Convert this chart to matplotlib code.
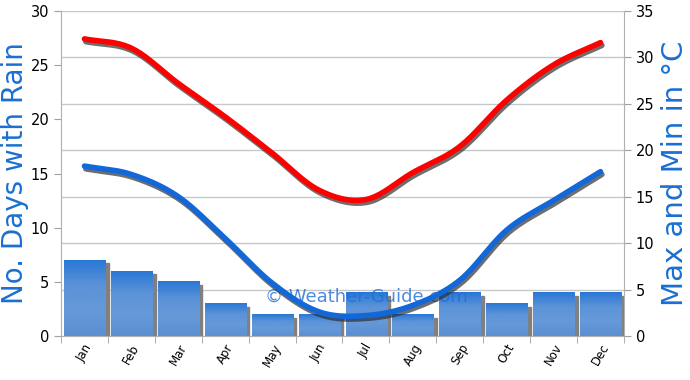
import numpy as np
import matplotlib
matplotlib.use('Agg')
import matplotlib.pyplot as plt
import matplotlib.patheffects as pe
from matplotlib.colors import LinearSegmentedColormap
from matplotlib.patches import Rectangle

months = ['Jan', 'Feb', 'Mar', 'Apr', 'May', 'Jun', 'Jul', 'Aug', 'Sep', 'Oct', 'Nov', 'Dec']
rain_days = [7, 6, 5, 3, 2, 2, 4, 2, 4, 3, 4, 4]
max_temp = [32.0, 31.0, 27.2, 23.6, 19.7, 15.7, 14.7, 17.6, 20.4, 25.4, 29.2, 31.6]
min_temp = [18.3, 17.4, 15.0, 10.5, 5.7, 2.6, 2.2, 3.3, 6.0, 11.4, 14.6, 17.7]

blue_txt = '#1a6fd2'


def smooth(x, y, n=20):
    # catmull-rom curve through the points (like a smoothed excel line)
    x = np.asarray(x, float)
    y = np.asarray(y, float)
    px = np.concatenate([[2 * x[0] - x[1]], x, [2 * x[-1] - x[-2]]])
    py = np.concatenate([[2 * y[0] - y[1]], y, [2 * y[-1] - y[-2]]])
    xs, ys = [], []
    t = np.linspace(0, 1, n, endpoint=False)
    for i in range(1, len(px) - 2):
        for p, out in ((px, xs), (py, ys)):
            p0, p1, p2, p3 = p[i - 1], p[i], p[i + 1], p[i + 2]
            out.extend(0.5 * (2 * p1 + (-p0 + p2) * t
                              + (2 * p0 - 5 * p1 + 4 * p2 - p3) * t ** 2
                              + (-p0 + 3 * p1 - 3 * p2 + p3) * t ** 3))
    xs.append(x[-1])
    ys.append(y[-1])
    return np.array(xs), np.array(ys)


fig = plt.figure(figsize=(6.9, 3.8), dpi=100)
ax = fig.add_axes([0.0884, 0.1158, 0.8159, 0.8552])
x = np.arange(len(months))

# gridlines follow the temperature scale
for t in range(0, 36, 5):
    ax.axhline(t * 30 / 35, color='#c8c8c8', lw=1, zorder=0)

cmap = LinearSegmentedColormap.from_list('rain', ['#2a78d6', '#5c93d8', '#6699d8', '#5b8fd2'])
grad = np.linspace(0, 1, 64).reshape(-1, 1)
bw = 0.88
for xi, d in zip(x, rain_days):
    x0 = xi - bw / 2 + 0.005
    ax.add_patch(Rectangle((x0 + bw, 0), 0.07, d - 0.3, color='#808080', zorder=1))
    ax.imshow(grad, extent=[x0, x0 + bw, 0, d], aspect='auto', cmap=cmap, zorder=2)

ax.set_xlim(-0.5, 11.5)
ax.set_ylim(0, 30)
ax.set_yticks(range(0, 31, 5))
ax.set_xticks(x)
ax.set_xticklabels(months, rotation=60, fontsize=8.5)
ax.set_xticks(np.arange(-0.5, 12, 1), minor=True)
ax.tick_params(axis='x', which='major', length=0, pad=4)
ax.tick_params(axis='x', which='minor', length=5, color='#a0a0a0')
ax.tick_params(axis='y', length=5, color='#a0a0a0', labelsize=10.5)
for s in ['top', 'right']:
    ax.spines[s].set_visible(False)
for s in ['left', 'bottom']:
    ax.spines[s].set_color('#b0b0b0')
ax.set_ylabel('No. Days with Rain', color=blue_txt, fontsize=20, labelpad=1)

ax2 = ax.twinx()
ax2.set_ylim(0, 35)
ax2.set_yticks(range(0, 36, 5))
ax2.tick_params(axis='y', length=5, color='#a0a0a0', labelsize=10.5)
for s in ['top', 'left', 'bottom']:
    ax2.spines[s].set_visible(False)
ax2.spines['right'].set_color('#b0b0b0')
ax2.set_ylabel('Max and Min in °C', color=blue_txt, fontsize=21, labelpad=5)

shadow = [pe.SimpleLineShadow(offset=(1.0, -2.0), shadow_color='#303030', alpha=0.7),
          pe.Normal()]
sx, sy = smooth(x, max_temp)
ax2.plot(sx, sy, color='#ff0000', lw=4, solid_capstyle='round', path_effects=shadow)
sx, sy = smooth(x, min_temp)
ax2.plot(sx, sy, color='#1268d8', lw=4, solid_capstyle='round', path_effects=shadow)

ax.text(6.0, 3.65, '© Weather-Guide.com', color='#1f6fd6', fontsize=13,
        ha='center', va='center', alpha=0.8, zorder=5)

plt.savefig('out.png', dpi=100)
